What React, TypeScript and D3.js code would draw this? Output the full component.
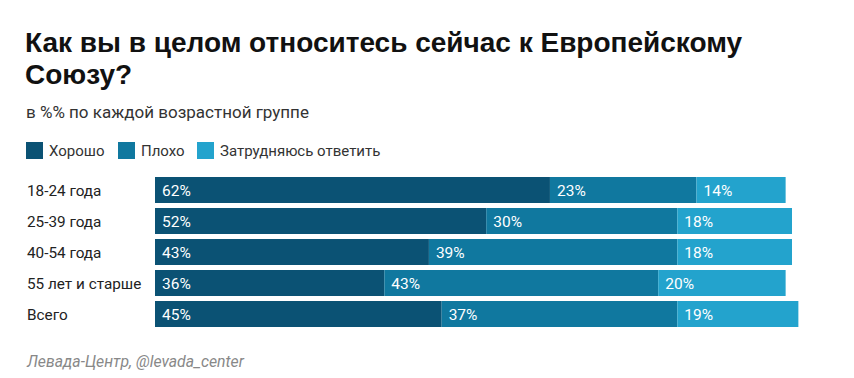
import React from "react";
import * as d3 from "d3";

const categories = ["18-24 года", "25-39 года", "40-54 года", "55 лет и старше", "Всего"];
const seriesNames = ["Хорошо", "Плохо", "Затрудняюсь ответить"];
const good = [62, 52, 43, 36, 45];
const bad = [23, 30, 39, 43, 37];
const unsure = [14, 18, 18, 20, 19];
const colors = ["#0b5274", "#10789f", "#23a3cd"];

const W = 854;
const H = 378;

export default function App() {
  const x = d3.scaleLinear().domain([0, 100]).range([155, 792]);
  const y = d3.scaleBand<string>().domain(categories).range([177, 327]).paddingInner(5 / 31).paddingOuter(0);
  const rows = categories.map((c, i) => ({ c, vals: [good[i], bad[i], unsure[i]] }));
  const stack = d3.stack<any>().keys(["0", "1", "2"]).value((d, k) => d.vals[+k]);
  const layers = stack(rows);
  const sans = "Roboto, 'Liberation Sans', Arial, sans-serif";
  const legendX = [26, 118, 197];
  return (
    <svg width={W} height={H} style={{ position: "absolute", left: 0, top: 0, background: "#fff" }}>
      <text x={25} y={52} fontFamily="'Liberation Sans', Arial, sans-serif" fontWeight="bold" fontSize={28} fill="#111">
        Как вы в целом относитесь сейчас к Европейскому
      </text>
      <text x={25} y={84} fontFamily="'Liberation Sans', Arial, sans-serif" fontWeight="bold" fontSize={28} fill="#111">
        Союзу?
      </text>
      <text x={26} y={118} fontFamily={sans} fontSize={17} fill="#333">
        в %% по каждой возрастной группе
      </text>
      {seriesNames.map((s, i) => (
        <g key={s}>
          <rect x={legendX[i]} y={142} width={17} height={17} fill={colors[i]} />
          <text x={legendX[i] + 23} y={156} fontFamily={sans} fontSize={15} fill="#333">
            {s}
          </text>
        </g>
      ))}
      {categories.map((c) => (
        <text key={c} x={27} y={(y(c) as number) + y.bandwidth() / 2 + 5.5} fontFamily={sans} fontSize={15.3} fill="#222">
          {c}
        </text>
      ))}
      {layers.map((layer, li) => (
        <g key={li}>
          {layer.map((d, i) => (
            <g key={i}>
              <rect
                x={x(d[0])}
                y={y(categories[i])}
                width={x(d[1]) - x(d[0])}
                height={y.bandwidth()}
                fill={colors[li]}
              />
              <text
                x={x(d[0]) + 7}
                y={(y(categories[i]) as number) + y.bandwidth() / 2 + 5.5}
                fontFamily={sans}
                fontSize={15.5}
                fill="#fff"
              >
                {rows[i].vals[li]}%
              </text>
            </g>
          ))}
        </g>
      ))}
      <text x={27} y={367} fontFamily={sans} fontStyle="italic" fontSize={15.8} fill="#888">
        Левада-Центр, @levada_center
      </text>
    </svg>
  );
}
